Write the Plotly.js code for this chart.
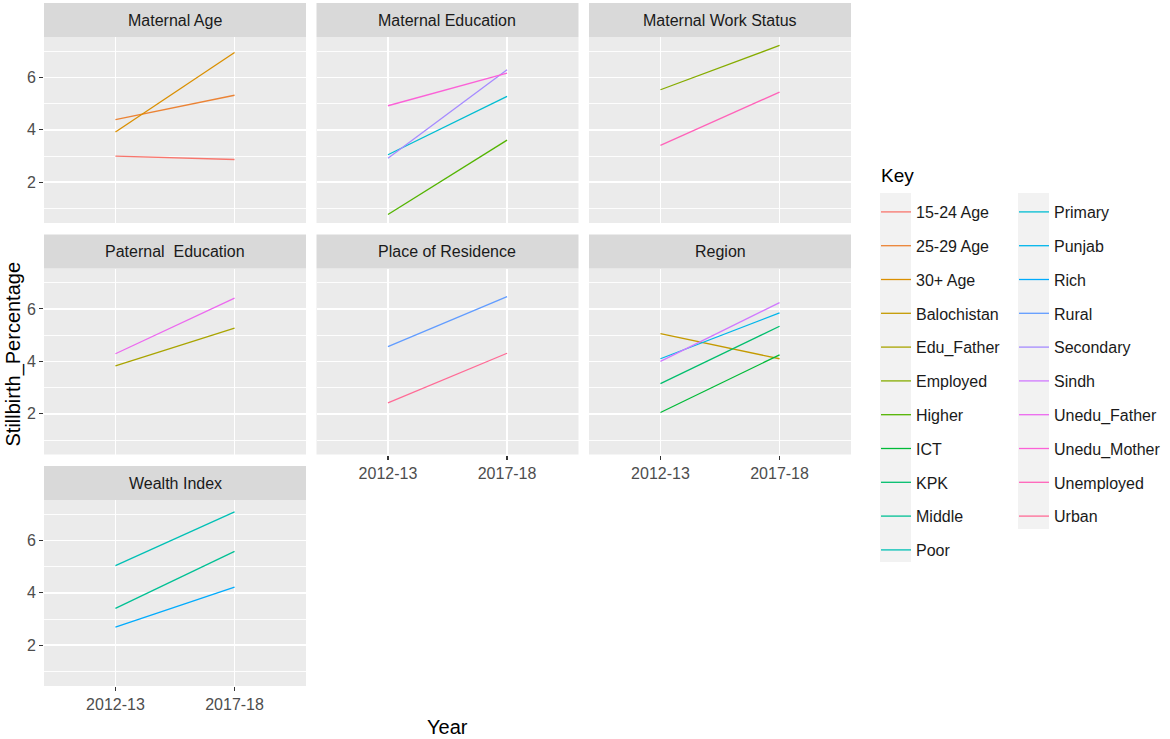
<!DOCTYPE html>
<html>
<head>
<meta charset="utf-8">
<script src="https://cdn.plot.ly/plotly-3.0.1.min.js"></script>
<style>html,body{margin:0;padding:0;background:#fff;}#chart{width:1170px;height:739px;}</style>
</head>
<body>
<div id="chart"></div>
<script>
// ---- data ----
const years = ["2012-13", "2017-18"];
const facets = ["Maternal Age", "Maternal Education", "Maternal Work Status",
  "Paternal  Education", "Place of Residence", "Region", "Wealth Index"];
const keys = ["15-24 Age", "25-29 Age", "30+ Age", "Balochistan", "Edu_Father", "Employed",
  "Higher", "ICT", "KPK", "Middle", "Poor", "Primary", "Punjab", "Rich", "Rural",
  "Secondary", "Sindh", "Unedu_Father", "Unedu_Mother", "Unemployed", "Urban"];
const keyFacet = ["Maternal Age", "Maternal Age", "Maternal Age", "Region", "Paternal  Education",
  "Maternal Work Status", "Maternal Education", "Region", "Region", "Wealth Index", "Wealth Index",
  "Maternal Education", "Region", "Wealth Index", "Place of Residence", "Maternal Education",
  "Region", "Paternal  Education", "Maternal Education", "Maternal Work Status", "Place of Residence"];
const pct2012 = [3.00, 4.39, 3.92, 5.06, 3.83, 5.53, 0.77, 2.05, 3.15, 3.41, 5.04,
  3.05, 4.10, 2.69, 4.56, 2.92, 4.00, 4.29, 4.92, 3.41, 2.42];
const pct2017 = [2.87, 5.32, 6.95, 4.10, 5.27, 7.22, 3.61, 4.25, 5.34, 5.58, 7.09,
  5.28, 5.85, 4.22, 6.47, 6.29, 6.24, 6.41, 6.16, 5.44, 4.31];
const yTicks = [2, 4, 6];

// ---- ggplot hue palette ----
function hcl2hex(h, c, l) {
  const hr = h * Math.PI / 180;
  const U = c * Math.cos(hr), V = c * Math.sin(hr);
  const Xn = 95.047, Yn = 100.0, Zn = 108.883;
  const den = Xn + 15 * Yn + 3 * Zn;
  const un = 4 * Xn / den, vn = 9 * Yn / den;
  const Y = Yn * Math.pow((l + 16) / 116, 3);
  const u = U / (13 * l) + un, v = V / (13 * l) + vn;
  const X = 9 * Y * u / (4 * v);
  const Z = 3 * Y / v - X / 3 - 5 * Y;
  const x = X / 100, y = Y / 100, z = Z / 100;
  let rgb = [3.240479 * x - 1.537150 * y - 0.498535 * z,
    -0.969256 * x + 1.875992 * y + 0.041556 * z,
    0.055648 * x - 0.204043 * y + 1.057311 * z];
  rgb = rgb.map(t => {
    t = t <= 0.0031308 ? 12.92 * t : 1.055 * Math.pow(t, 1 / 2.4) - 0.055;
    t = Math.max(0, Math.min(1, t));
    return Math.round(t * 255).toString(16).padStart(2, "0");
  });
  return "#" + rgb.join("");
}
const nK = keys.length;
const colors = keys.map((k, i) => hcl2hex(15 + i * 360 / nK, 100, 65));

// ---- geometry (px) ----
const W = 1170, H = 739;
const colLeft = [44, 316.5, 589], colW = 262;
const rowTop = [37, 268.5, 500], rowH = 186, stripH = 34;
const px = v => v / W, py = v => 1 - v / H;

// y range like ggplot (5% expansion)
const allV = pct2012.concat(pct2017);
const vmin = Math.min(...allV), vmax = Math.max(...allV);
const ex = (vmax - vmin) * 0.05;
const yRange = [vmin - ex, vmax + ex];

const legendBase = {
  xanchor: "left", yanchor: "top",
  bgcolor: "rgba(0,0,0,0)", borderwidth: 0,
  font: {size: 16, color: "#1A1A1A"},
  tracegroupgap: 10, itemwidth: 30, itemclick: false, itemdoubleclick: false
};

const layout = {
  width: W, height: H,
  margin: {l: 0, r: 0, t: 0, b: 0},
  paper_bgcolor: "#FFFFFF",
  plot_bgcolor: "#EBEBEB",
  font: {family: "Liberation Sans, Arial, sans-serif", color: "#000000"},
  showlegend: true,
  shapes: [], annotations: [],
  legend: Object.assign({x: px(876), y: py(195)}, legendBase),
  legend2: Object.assign({x: px(1014), y: py(195)}, legendBase)
};

const nCols = 3;
facets.forEach((f, i) => {
  const r = Math.floor(i / nCols), c = i % nCols;
  const isBottom = (i + nCols) >= facets.length;
  const isLeft = c === 0;
  const xa = "xaxis" + (i + 1), ya = "yaxis" + (i + 1);
  const x0 = colLeft[c], y0 = rowTop[r];
  layout[xa] = {
    domain: [px(x0), px(x0 + colW)], anchor: "y" + (i + 1),
    type: "category", categoryorder: "array", categoryarray: years,
    range: [-0.6, 1.6], fixedrange: true,
    showgrid: true, gridcolor: "#FFFFFF", gridwidth: 1.7,
    zeroline: false, showline: false,
    ticks: isBottom ? "outside" : "", ticklen: 4, tickwidth: 1.1, tickcolor: "#333333",
    showticklabels: isBottom,
    tickfont: {size: 16, color: "#4D4D4D"}
  };
  layout[ya] = {
    domain: [py(y0 + rowH), py(y0)], anchor: "x" + (i + 1),
    range: yRange, fixedrange: true,
    tickmode: "array", tickvals: yTicks,
    showgrid: true, gridcolor: "#FFFFFF", gridwidth: 1.7,
    minor: {dtick: 1, tick0: 0, showgrid: true, gridcolor: "#FFFFFF", gridwidth: 0.9},
    zeroline: false, showline: false,
    ticks: isLeft ? "outside" : "", ticklen: 4, tickwidth: 1.1, tickcolor: "#333333",
    showticklabels: isLeft,
    tickfont: {size: 16, color: "#4D4D4D"}
  };
  // strip
  layout.shapes.push({
    type: "rect", xref: "paper", yref: "paper",
    x0: px(x0), x1: px(x0 + colW), y0: py(y0), y1: py(y0 - stripH),
    fillcolor: "#D9D9D9", line: {width: 0}, layer: "below"
  });
  layout.annotations.push({
    xref: "paper", yref: "paper", x: px(x0 + colW / 2), y: py(y0 - stripH / 2),
    text: f, showarrow: false, xanchor: "center", yanchor: "middle",
    font: {size: 16, color: "#1A1A1A"}
  });
});

// axis titles and legend title
layout.annotations.push({
  xref: "paper", yref: "paper", x: px(447.5), y: py(727),
  text: "Year", showarrow: false, xanchor: "center", yanchor: "middle",
  font: {size: 20, color: "#000000"}
});
layout.annotations.push({
  xref: "paper", yref: "paper", x: px(13.5), y: py(354),
  text: "Stillbirth_Percentage", showarrow: false, textangle: -90,
  xanchor: "center", yanchor: "middle",
  font: {size: 20, color: "#000000"}
});
layout.annotations.push({
  xref: "paper", yref: "paper", x: px(879), y: py(175),
  text: "Key", showarrow: false, xanchor: "left", yanchor: "middle",
  font: {size: 19, color: "#000000"}
});

// legend key backgrounds
layout.shapes.push({type: "rect", xref: "paper", yref: "paper",
  x0: px(880), x1: px(911), y0: py(562), y1: py(193), fillcolor: "#F2F2F2", line: {width: 0}, layer: "below"});
layout.shapes.push({type: "rect", xref: "paper", yref: "paper",
  x0: px(1018), x1: px(1049), y0: py(529), y1: py(193), fillcolor: "#F2F2F2", line: {width: 0}, layer: "below"});

// traces
const half = Math.ceil(keys.length / 2);
const traces = keys.map((k, i) => {
  const fi = facets.indexOf(keyFacet[i]);
  return {
    type: "scatter", mode: "lines",
    x: years, y: [pct2012[i], pct2017[i]],
    xaxis: "x" + (fi + 1), yaxis: "y" + (fi + 1),
    name: k, legendgroup: k,
    legend: i < half ? "legend" : "legend2",
    line: {color: colors[i], width: 1.3},
    hoverinfo: "x+y+name"
  };
});

Plotly.newPlot("chart", traces, layout, {displayModeBar: false, staticPlot: true});
</script>
</body>
</html>
